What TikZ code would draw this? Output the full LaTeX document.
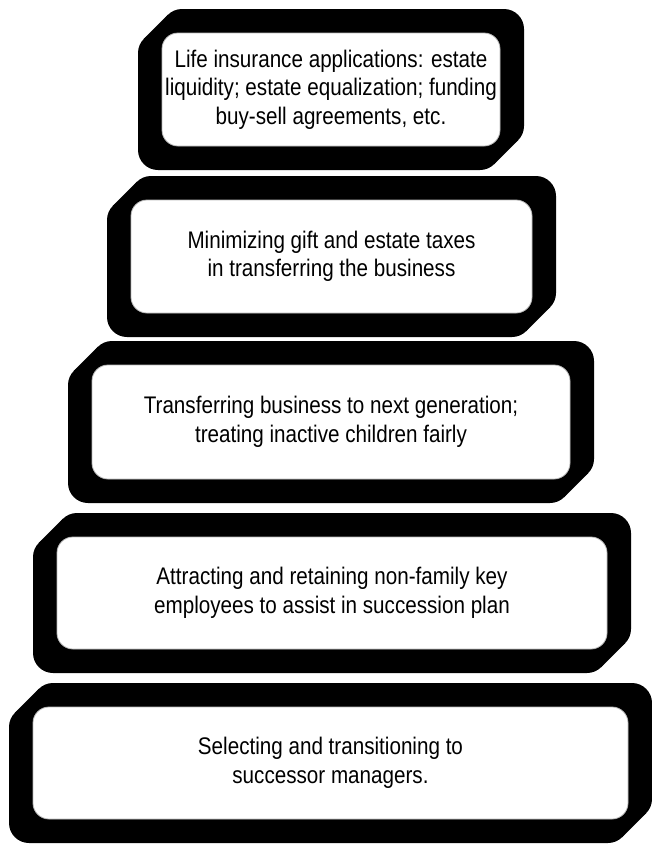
\documentclass[tikz,border=0pt]{standalone}
\usepackage{fontspec}
\setmainfont{Liberation Sans}[FakeStretch=0.86]
\tikzset{
  slab/.style={fill=black},
  face/.style={draw=gray!55, line width=0.8pt, fill=white, rounded corners=16pt,
    inner sep=0pt, align=center, font=\fontsize{24}{28.5}\selectfont},
}
% #1 name, #2 x1, #3 x2, #4 y1, #5 y2 (front face, image coords), #6 text
\newcommand\tierbox[6]{%
  \pgfmathsetmacro\dd{24}\pgfmathsetmacro\rr{20}\pgfmathsetmacro\qq{20*0.7071}%
  \fill[slab,rounded corners=20pt] (#2,#4) rectangle (#3,#5);
  \fill[slab,rounded corners=20pt] (#2+\dd,#4-\dd) rectangle (#3+\dd,#5-\dd);
  \fill[slab] (#2+\rr-\qq,#4+\rr-\qq) -- (#2+\dd+\rr-\qq,#4-\dd+\rr-\qq)
     -- (#3+\dd-\rr+\qq,#5-\dd-\rr+\qq) -- (#3-\rr+\qq,#5-\rr+\qq) -- cycle;
  \pgfmathsetmacro\ww{#3-#2-\dd}\pgfmathsetmacro\hh{#5-#4-\dd}%
  \node[face, minimum width=\ww pt, minimum height=\hh pt] (#1)
     at ({(#2+\dd+#3)/2},{(#4+#5-\dd)/2}) {#6};
}
\begin{document}
\begin{tikzpicture}[x=1pt,y=-1pt]
\useasboundingbox (0,0) rectangle (652,844);
\tierbox{t1}{138}{500}{33}{170}{Life insurance applications: estate\\liquidity; estate equalization; funding\\buy-sell agreements, etc.}
\tierbox{t2}{107}{532}{200}{337}{Minimizing gift and estate taxes\\in transferring the business}
\tierbox{t3}{68}{570}{365}{503}{Transferring business to next generation;\\treating inactive children fairly}
\tierbox{t4}{33}{607}{537}{673}{Attracting and retaining non-family key\\employees to assist in succession plan}
\tierbox{t5}{9}{628}{707}{843}{Selecting and transitioning to\\successor managers.}
\end{tikzpicture}
\end{document}
